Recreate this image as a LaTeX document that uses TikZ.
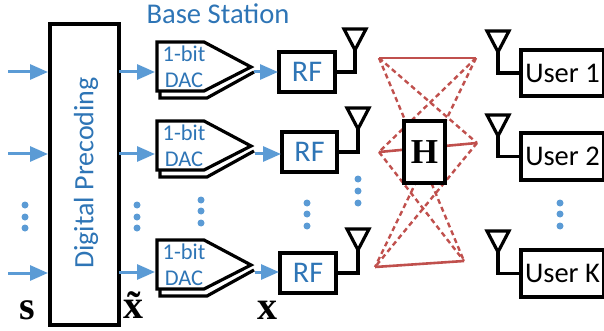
\documentclass[tikz,border=0pt]{standalone}
\usepackage{fontspec}
\setmainfont{Carlito}
\newfontfamily\symbolserif{Liberation Serif}
\usepackage{tikz}
\usetikzlibrary{arrows.meta}
\definecolor{labelblue}{RGB}{46,117,182}
\definecolor{arrowblue}{RGB}{91,155,213}
\definecolor{linkred}{RGB}{192,80,77}
\tikzset{
  blackbox/.style={draw=black,line width=3.2pt,fill=white,inner sep=0pt,outer sep=0pt,anchor=north west},
  feed/.style={arrowblue,line width=3pt,-{Triangle[length=18pt,width=15pt]}},
  wire/.style={black,line width=3.2pt,line join=miter},
  solidlink/.style={linkred,line width=2.6pt},
  dashedlink/.style={linkred,line width=2.4pt,dash pattern=on 5pt off 3.5pt},
  bluetext/.style={labelblue,font=\fontsize{22.5}{22.5}\selectfont},
  rftext/.style={text=labelblue,font=\fontsize{30}{30}\selectfont},
  usertext/.style={font=\fontsize{28.5}{28.5}\selectfont},
  boldsym/.style={font=\symbolserif\bfseries\fontsize{40}{40}\selectfont},
  dotmark/.style={circle,fill=arrowblue,inner sep=0pt,minimum size=7pt},
  pics/dacbody/.style={code={
    \draw[wire] (3,49) -- (3,56) -- (50,56) -- (97,30);
    \draw[wire,fill=white] (0,0) -- (47,0) -- (94,25) -- (47,49) -- (0,49) -- cycle;
  }},
  pics/antenna/.style={code={
    \draw[wire] (-11,-21) -- (11,-21) -- (0,0) -- cycle;
  }},
}
\begin{document}
\begin{tikzpicture}[x=1pt,y=-1pt,>=Latex]
  \useasboundingbox (0,0) rectangle (604,331);
  % channel links, the H box sits on top of them
  \coordinate (tl) at (379,58);
  \coordinate (tr) at (476,58);
  \coordinate (ml) at (379,152);
  \coordinate (mr) at (477,143);
  \coordinate (bl) at (375,267);
  \coordinate (br) at (464,261);
  \draw[solidlink] (tl) -- (tr);
  \draw[solidlink] (ml) -- (mr);
  \draw[solidlink] (bl) -- (br);
  \draw[dashedlink] (tl) -- (mr);
  \draw[dashedlink] (tl) -- (br);
  \draw[dashedlink] (tr) -- (ml);
  \draw[dashedlink] (tr) -- (bl);
  \draw[dashedlink] (ml) -- (br);
  \draw[dashedlink] (mr) -- (bl);
  \node[blackbox,minimum width=41pt,minimum height=62pt,font=\symbolserif\bfseries\fontsize{35}{35}\selectfont] (hbox) at (404,121) {H};

  \node[labelblue,font=\fontsize{28.6}{28.6}\selectfont] (title) at (218,14) {Base Station};

  % precoder
  \node[blackbox,minimum width=69pt,minimum height=301pt] (precoder) at (50,24) {};
  \node[labelblue,rotate=90,font=\fontsize{28}{28}\selectfont] (precodertext) at (86,173) {Digital Precoding};

  % dac stacks
  \pic at (157,42) {dacbody};
  \pic at (157,121) {dacbody};
  \pic at (157,240) {dacbody};
  \node[bluetext] (bita) at (184,54) {1-bit};
  \node[bluetext] (daca) at (184,80) {DAC};
  \node[bluetext] (bitb) at (184,133) {1-bit};
  \node[bluetext] (dacb) at (184,159) {DAC};
  \node[bluetext] (bitc) at (184,252) {1-bit};
  \node[bluetext] (dacc) at (184,278) {DAC};
  \coordinate (dacain) at (155,72);
  \coordinate (dacbin) at (155,154);
  \coordinate (daccin) at (155,272);
  \coordinate (dacaout) at (254,72);
  \coordinate (dacbout) at (255,154);
  \coordinate (daccout) at (255,272);

  % rf chains
  \node[blackbox,minimum width=56pt,minimum height=40pt,rftext] (rfa) at (279,52) {RF};
  \node[blackbox,minimum width=55pt,minimum height=40pt,rftext] (rfb) at (282,132) {RF};
  \node[blackbox,minimum width=56pt,minimum height=40pt,rftext] (rfc) at (280,253) {RF};

  % users
  \node[blackbox,minimum width=83pt,minimum height=46pt,usertext] (usera) at (521,50) {User 1};
  \node[blackbox,minimum width=83pt,minimum height=47pt,usertext] (userb) at (521,133) {User 2};
  \node[blackbox,minimum width=83pt,minimum height=47pt,usertext] (userc) at (521,250) {User K};

  % inputs and outputs of the precoder
  \coordinate (ina) at (8,72);
  \coordinate (inb) at (8,154);
  \coordinate (inc) at (8,273);
  \draw[feed] (ina) -- ([xshift=-2pt]ina -| precoder.west);
  \draw[feed] (inb) -- ([xshift=-2pt]inb -| precoder.west);
  \draw[feed] (inc) -- ([xshift=-2pt]inc -| precoder.west);
  \draw[feed] (dacain -| precoder.east) -- (dacain);
  \draw[feed] (dacbin -| precoder.east) -- (dacbin);
  \draw[feed] (daccin -| precoder.east) -- (daccin);
  \draw[feed] (dacaout) -- ([xshift=-1pt]dacaout -| rfa.west);
  \draw[feed] (dacbout) -- ([xshift=-1pt]dacbout -| rfb.west);
  \draw[feed] (daccout) -- ([xshift=-1pt]daccout -| rfc.west);

  % antennas
  \coordinate (anta) at (355,50);
  \coordinate (antb) at (358,129);
  \coordinate (antc) at (358,250);
  \coordinate (antd) at (498,52);
  \coordinate (ante) at (498,136);
  \coordinate (antf) at (498,252);
  \pic at (anta) {antenna};
  \pic at (antb) {antenna};
  \pic at (antc) {antenna};
  \pic at (antd) {antenna};
  \pic at (ante) {antenna};
  \pic at (antf) {antenna};
  \draw[wire] (rfa.east) -| (anta);
  \draw[wire] (rfb.east) -| (antb);
  \draw[wire] (rfc.east) -| (antc);
  \draw[wire] (usera.west) -| (antd);
  \draw[wire] (userb.west) -| (ante);
  \draw[wire] (userc.west) -| (antf);

  % dots
  \node[dotmark] (dota1) at (25,205) {};
  \node[dotmark] (dota2) at (25,217) {};
  \node[dotmark] (dota3) at (25,228) {};
  \node[dotmark] (dotb1) at (137,205) {};
  \node[dotmark] (dotb2) at (137,217) {};
  \node[dotmark] (dotb3) at (137,228) {};
  \node[dotmark] (dotc1) at (201,200) {};
  \node[dotmark] (dotc2) at (201,211) {};
  \node[dotmark] (dotc3) at (201,223) {};
  \node[dotmark] (dotd1) at (307,203) {};
  \node[dotmark] (dotd2) at (307,214) {};
  \node[dotmark] (dotd3) at (307,226) {};
  \node[dotmark] (dote1) at (358,179) {};
  \node[dotmark] (dote2) at (358,191) {};
  \node[dotmark] (dote3) at (358,203) {};
  \node[dotmark] (dotf1) at (560,203) {};
  \node[dotmark] (dotf2) at (560,214) {};
  \node[dotmark] (dotf3) at (560,226) {};

  % signal names
  \node[boldsym] (sname) at (27,310) {s};
  \node[boldsym] (xtname) at (133,305) {\~{x}};
  \node[boldsym] (xname) at (267,310) {x};
\end{tikzpicture}
\end{document}
